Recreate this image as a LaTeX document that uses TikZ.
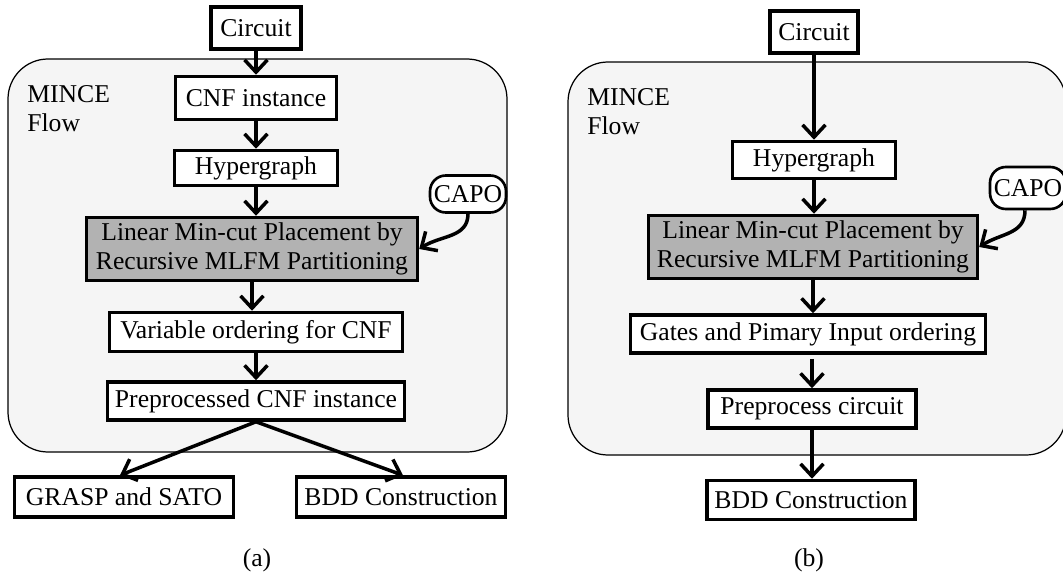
\documentclass[tikz,border=0pt]{standalone}
\usepackage{fontspec}
\setmainfont{Liberation Serif}
\usetikzlibrary{arrows.meta, positioning, calc}

\tikzset{
    blk/.style={draw, line width=2pt, fill=white, inner sep=2pt},
    shaded/.style={blk, fill=gray!60},
    capo/.style={draw, line width=1.5pt, fill=white, rounded corners=9pt,
        minimum width=1.52cm, inner sep=2pt},
    flowbox/.style={draw, line width=0.7pt, fill=black!4, rounded corners=0.8cm},
    arr/.style={-{Straight Barb[length=7pt, width=13pt]}, line width=2pt},
}

\begin{document}
\begin{tikzpicture}[x=0.02cm, y=-0.02cm, font=\fontsize{14.6}{16.5}\selectfont]
    \useasboundingbox (0, 0) rectangle (1063, 575);

    % (a) flow with CNF
    \draw[flowbox] (8, 59) rectangle (507, 452);
    \node[align=left, anchor=west, inner sep=0pt] (flowA) at (27, 109) {MINCE\\Flow};
    \node[blk, minimum width=1.8cm, minimum height=0.84cm] (circA) at (256, 28) {Circuit};
    \node[blk, minimum width=3.22cm, minimum height=0.86cm] (cnfA) at (256, 98) {CNF instance};
    \node[blk, minimum width=3.26cm, minimum height=0.7cm] (hypA) at (256, 168) {Hypergraph};
    \node[shaded, align=center, minimum width=6.62cm, minimum height=1.26cm] (linA) at (252, 249)
        {Linear Min-cut Placement by\\Recursive MLFM Partitioning};
    \node[blk, minimum width=5.86cm, minimum height=0.78cm] (varA) at (256, 332) {Variable ordering for CNF};
    \node[blk, minimum width=5.94cm, minimum height=0.76cm] (preA) at (256, 401) {Preprocessed CNF instance};
    \node[blk, minimum width=4.38cm, minimum height=0.8cm] (grasp) at (124, 497) {GRASP and SATO};
    \node[blk, minimum width=4.18cm, minimum height=0.8cm] (bddA) at (401, 497) {BDD Construction};
    \node[capo, minimum height=0.74cm] (capoA) at (468, 194) {CAPO};
    \node (capA) at (257, 560) {(a)};

    \draw[arr] (circA.south) -- (circA.south |- cnfA.north);
    \draw[arr] (cnfA.south) -- (cnfA.south |- hypA.north);
    \draw[arr] (hypA.south) -- (hypA.south |- linA.north);
    \draw[arr] (linA.south) -- (linA.south |- varA.north);
    \draw[arr] (varA.south) -- (varA.south |- preA.north);
    \draw[arr] (preA.south) -- ([xshift=-0.08cm]grasp.north);
    \draw[arr] (preA.south) -- ([xshift=0.04cm]bddA.north);
    \draw[arr] (capoA.south) .. controls +(0, 24) and +(22, -14) .. (linA.east);

    % (b) flow with circuit
    \draw[flowbox] (568, 62) rectangle (1066, 455);
    \node[align=left, anchor=west, inner sep=0pt] (flowB) at (587, 112) {MINCE\\Flow};
    \node[blk, minimum width=1.76cm, minimum height=0.84cm] (circB) at (814, 32) {Circuit};
    \node[blk, minimum width=3.26cm, minimum height=0.74cm] (hypB) at (814, 160) {Hypergraph};
    \node[shaded, align=center, minimum width=6.58cm, minimum height=1.26cm] (linB) at (813, 247)
        {Linear Min-cut Placement by\\Recursive MLFM Partitioning};
    \node[blk, minimum width=7.1cm, minimum height=0.76cm] (gates) at (808, 334) {Gates and Pimary Input ordering};
    \node[blk, minimum width=4.16cm, minimum height=0.76cm] (prep) at (812, 409) {Preprocess circuit};
    \node[blk, minimum width=4.16cm, minimum height=0.78cm] (bddB) at (811, 500) {BDD Construction};
    \node[capo, minimum height=0.84cm] (capoB) at (1028, 188) {CAPO};
    \node (capB) at (809, 560) {(b)};

    \draw[arr] (circB.south) -- (circB.south |- hypB.north);
    \draw[arr] (hypB.south) -- (hypB.south |- linB.north);
    \draw[arr] (linB.south) -- (linB.south |- gates.north);
    \draw[arr] ([yshift=-0.08cm]prep.north |- gates.south) -- (prep.north);
    \draw[arr] (prep.south) -- (prep.south |- bddB.north);
    \draw[arr] ([xshift=-0.06cm]capoB.south) .. controls +(0, 24) and +(22, -14) .. (linB.east);
\end{tikzpicture}
\end{document}
